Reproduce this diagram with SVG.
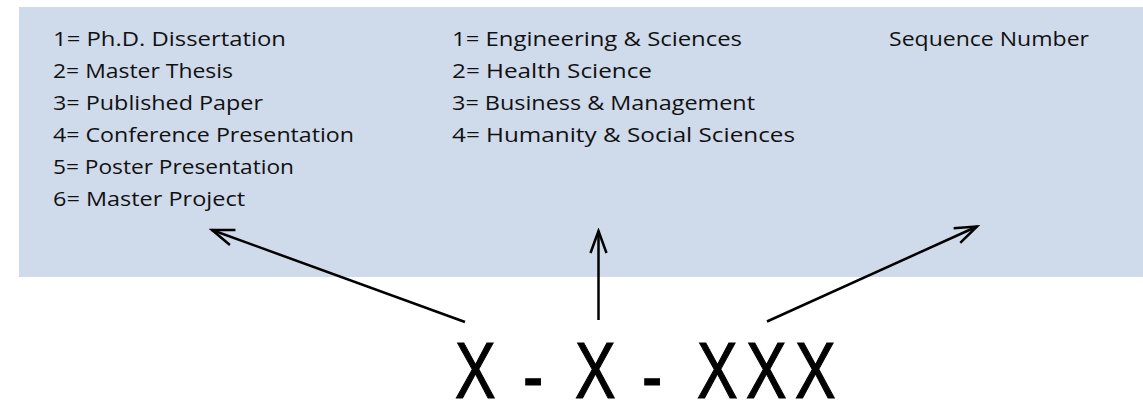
<svg xmlns="http://www.w3.org/2000/svg" width="1143" height="402" viewBox="0 0 1143 402">
  <style>
    .item { font-family: "Open Sans", Lato, "Liberation Sans", sans-serif; font-size: 20px; fill: #111; }
    .code { font-family: "Liberation Sans", Arial, sans-serif; font-size: 79px; fill: #000; stroke: #000; stroke-width: 1.2; }
    .conn { stroke: #000; stroke-width: 2.5; fill: none; }
  </style>
  <defs>
    <marker id="open-arrow" markerUnits="userSpaceOnUse" markerWidth="26" markerHeight="20" viewBox="0 0 26 20" refX="23" refY="10" orient="auto">
      <path d="M1,2 L23,10 L1,18" stroke="#000" stroke-width="2.5" fill="none" stroke-linejoin="miter"/>
    </marker>
  </defs>

  <!-- shaded legend panel -->
  <rect id="panel" x="19" y="7" width="1124" height="270" fill="#cfdaea"/>

  <!-- document type codes -->
  <g id="doc-type">
    <text class="item" x="53" y="46" textLength="233" lengthAdjust="spacingAndGlyphs">1= Ph.D. Dissertation</text>
    <text class="item" x="53" y="78" textLength="180" lengthAdjust="spacingAndGlyphs">2= Master Thesis</text>
    <text class="item" x="53" y="110" textLength="210" lengthAdjust="spacingAndGlyphs">3= Published Paper</text>
    <text class="item" x="53" y="142" textLength="301" lengthAdjust="spacingAndGlyphs">4= Conference Presentation</text>
    <text class="item" x="53" y="174" textLength="241" lengthAdjust="spacingAndGlyphs">5= Poster Presentation</text>
    <text class="item" x="53" y="206" textLength="192" lengthAdjust="spacingAndGlyphs">6= Master Project</text>
  </g>

  <!-- discipline codes -->
  <g id="discipline">
    <text class="item" x="452" y="46" textLength="290" lengthAdjust="spacingAndGlyphs">1= Engineering &amp; Sciences</text>
    <text class="item" x="452" y="78" textLength="200" lengthAdjust="spacingAndGlyphs">2= Health Science</text>
    <text class="item" x="452" y="110" textLength="303" lengthAdjust="spacingAndGlyphs">3= Business &amp; Management</text>
    <text class="item" x="452" y="142" textLength="343" lengthAdjust="spacingAndGlyphs">4= Humanity &amp; Social Sciences</text>
  </g>

  <!-- sequence -->
  <g id="sequence">
    <text class="item" x="889" y="46" textLength="200" lengthAdjust="spacingAndGlyphs">Sequence Number</text>
  </g>

  <!-- code pattern -->
  <g id="code-pattern">
    <text class="code" transform="translate(455,398) scale(0.77,1)" x="0 53 88.3 110 155.8 209 242.9 265 314.3 377.9 441.6" y="0 0 5 0 0 0 5 0 0 0 0">X - X - XXX</text>
  </g>

  <!-- connectors -->
  <g id="connectors">
    <line class="conn" x1="465" y1="322" x2="212" y2="230" marker-end="url(#open-arrow)"/>
    <line class="conn" x1="598.5" y1="320" x2="598.5" y2="231" marker-end="url(#open-arrow)"/>
    <line class="conn" x1="767" y1="321.5" x2="977" y2="226.5" marker-end="url(#open-arrow)"/>
  </g>
</svg>
